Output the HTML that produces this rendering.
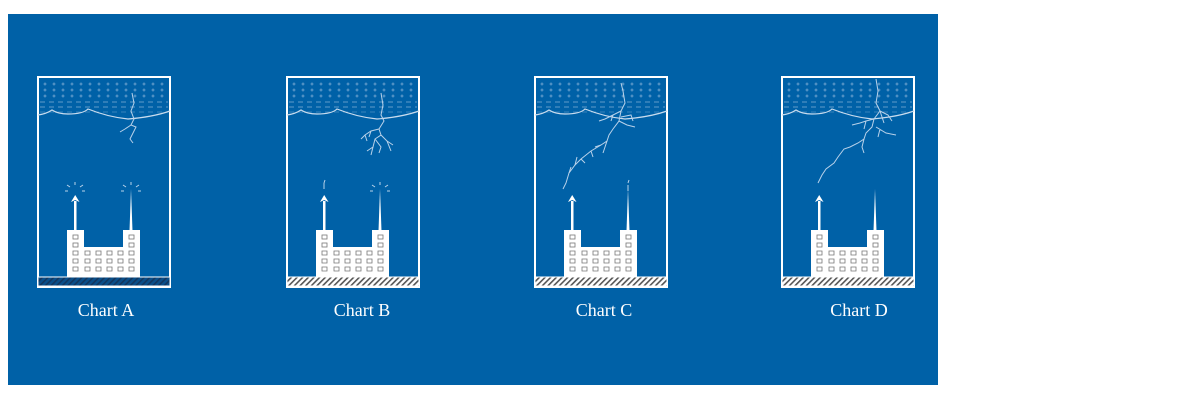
<!DOCTYPE html>
<html><head><style>
body{margin:0;background:#fff;width:1200px;height:400px;overflow:hidden}
svg{display:block}
text{font-family:"Liberation Serif",serif;font-size:18px;fill:#fff}
</style></head><body>
<svg width="1200" height="400" viewBox="0 0 1200 400">
<defs>
<pattern id="hw" width="4" height="4" patternUnits="userSpaceOnUse" patternTransform="rotate(45)">
<rect width="4" height="4" fill="#fff"/><rect width="1.6" height="4" fill="#555"/></pattern>
<pattern id="hb" width="4" height="4" patternUnits="userSpaceOnUse" patternTransform="rotate(45)">
<rect width="4" height="4" fill="#0a4f8a"/><rect width="1.6" height="4" fill="#13365e"/></pattern>
<g id="base">
<rect x="0" y="0" width="132" height="210" fill="none" stroke="#fff" stroke-width="2"/>
<g stroke="#a9c6e3" stroke-width="0.8" opacity="0.75">
<path d="M5.5,7h3M7,5.5v3M14.5,7h3M16,5.5v3M23.5,7h3M25,5.5v3M32.5,7h3M34,5.5v3M41.5,7h3M43,5.5v3M50.5,7h3M52,5.5v3M59.5,7h3M61,5.5v3M68.5,7h3M70,5.5v3M77.5,7h3M79,5.5v3M86.5,7h3M88,5.5v3M95.5,7h3M97,5.5v3M104.5,7h3M106,5.5v3M113.5,7h3M115,5.5v3M122.5,7h3M124,5.5v3"/>
<path d="M5.5,13h3M7,11.5v3M14.5,13h3M16,11.5v3M23.5,13h3M25,11.5v3M32.5,13h3M34,11.5v3M41.5,13h3M43,11.5v3M50.5,13h3M52,11.5v3M59.5,13h3M61,11.5v3M68.5,13h3M70,11.5v3M77.5,13h3M79,11.5v3M86.5,13h3M88,11.5v3M95.5,13h3M97,11.5v3M104.5,13h3M106,11.5v3M113.5,13h3M115,11.5v3M122.5,13h3M124,11.5v3"/>
<path d="M5.5,19h3M7,17.5v3M14.5,19h3M16,17.5v3M23.5,19h3M25,17.5v3M32.5,19h3M34,17.5v3M41.5,19h3M43,17.5v3M50.5,19h3M52,17.5v3M59.5,19h3M61,17.5v3M68.5,19h3M70,17.5v3M77.5,19h3M79,17.5v3M86.5,19h3M88,17.5v3M95.5,19h3M97,17.5v3M104.5,19h3M106,17.5v3M113.5,19h3M115,17.5v3M122.5,19h3M124,17.5v3"/>
<path d="M2,25H130M2,30H130" stroke-dasharray="5,4"/>
<path d="M2,35H130" stroke-dasharray="5,4" opacity="0.6"/>
</g>
<path d="M0,38 Q8,37 14,33 Q20,37 30,37 Q45,37 50,32 Q70,40 90,42 Q115,40 132,34" fill="none" stroke="#c9dcee" stroke-width="1.2"/>
<g fill="#fff">
<rect x="29" y="153" width="17" height="47"/><rect x="46" y="170" width="39" height="30"/><rect x="85" y="153" width="17" height="47"/>
<rect x="36" y="124" width="2.5" height="30"/>
<path d="M37.2,118 L33,125 L37.2,123 L41.5,125Z"/>
<path d="M93,112 L91.5,154 L94.5,154Z"/>
</g>
<g fill="none" stroke="#777" stroke-width="0.8">
<rect x="35" y="158" width="5" height="4"/><rect x="35" y="166" width="5" height="4"/>
<rect x="91" y="158" width="5" height="4"/><rect x="91" y="166" width="5" height="4"/>
<path d="M35,174h5v4h-5zM47,174h5v4h-5zM58,174h5v4h-5zM69,174h5v4h-5zM80,174h5v4h-5zM91,174h5v4h-5z"/>
<path d="M35,182h5v4h-5zM47,182h5v4h-5zM58,182h5v4h-5zM69,182h5v4h-5zM80,182h5v4h-5zM91,182h5v4h-5z"/>
<path d="M35,190h5v4h-5zM47,190h5v4h-5zM58,190h5v4h-5zM69,190h5v4h-5zM80,190h5v4h-5zM91,190h5v4h-5z"/>
</g>
<rect x="0" y="200" width="132" height="9" fill="url(#hw)" stroke="#fff" stroke-width="1"/>
</g>
</defs>
<rect x="8" y="14" width="930" height="371" fill="#0061a7"/>

<!-- A -->
<g transform="translate(38,77)">
<use href="#base"/>
<rect x="0" y="200" width="132" height="9" fill="url(#hb)" stroke="#fff" stroke-width="1"/>
<g stroke="#b9d2ea" stroke-width="1" fill="none">
<path d="M94,16 L96,26 L93,34 L96,42 L93,48 L98,50 L95,56 L92,62 L95,66"/>
<path d="M93,48 L87,52 L82,55"/>
<path d="M37,108v-3M32,110l-3,-2M42,110l3,-2M30,114h-3M44,114h3"/>
<path d="M93,108v-3M88,110l-3,-2M98,110l3,-2M86,114h-3M100,114h3"/>
</g>
</g>
<text x="106" y="316" text-anchor="middle">Chart A</text>

<!-- B -->
<g transform="translate(287,77)">
<use href="#base"/>
<g stroke="#b9d2ea" stroke-width="1" fill="none">
<path d="M94,16 L96,28 L94,38 L97,44 L92,52 L94,58 L88,62 L86,70 L84,78"/>
<path d="M92,52 L84,54 L78,58 L74,62M84,54 L82,60M78,58 L80,64"/>
<path d="M94,58 L100,64 L104,74M100,64 L106,68M88,62 L94,70 L92,76M86,70 L80,74"/>
<path d="M37,112v-6M37,106l1,-3"/>
<path d="M93,108v-3M88,110l-3,-2M98,110l3,-2M86,114h-3M100,114h3"/>
</g>
</g>
<text x="362" y="316" text-anchor="middle">Chart B</text>

<!-- C -->
<g transform="translate(535,77)">
<use href="#base"/>
<g stroke="#b9d2ea" stroke-width="1" fill="none">
<path d="M86,6 L88,14 L90,26 L86,34 L84,44 L78,52 L74,58 L72,64 L66,68 L56,74 L46,82 L40,88 L34,96 L31,106 L28,112"/>
<path d="M86,34 L78,38 L70,42L64,44M78,38 L76,44M84,44 L92,48 L100,50M86,40 L96,38 L98,44"/>
<path d="M72,64 L70,70 L68,76M66,68 L60,70M56,74 L58,80M46,82 L50,86M40,88 L42,80M34,96 L36,90"/>
<path d="M93,114v-6M93,106l1,-3"/>
</g>
</g>
<text x="604" y="316" text-anchor="middle">Chart C</text>

<!-- D -->
<g transform="translate(782,77)">
<use href="#base"/>
<g stroke="#b9d2ea" stroke-width="1" fill="none">
<path d="M94,2 L96,14 L94,26 L98,34 L92,42 L90,50 L84,56 L82,62 L76,66 L68,70 L62,72 L56,80 L52,86 L44,92 L40,98 L36,106"/>
<path d="M92,42 L84,44 L78,46 L70,48M84,44 L82,52M98,34 L106,38 L110,44M98,34 L102,46M94,50 L104,56 L114,58M98,52 L96,60"/>
<path d="M82,62 L80,70 L82,76"/>
</g>
</g>
<text x="859" y="316" text-anchor="middle">Chart D</text>
</svg>
</body></html>
